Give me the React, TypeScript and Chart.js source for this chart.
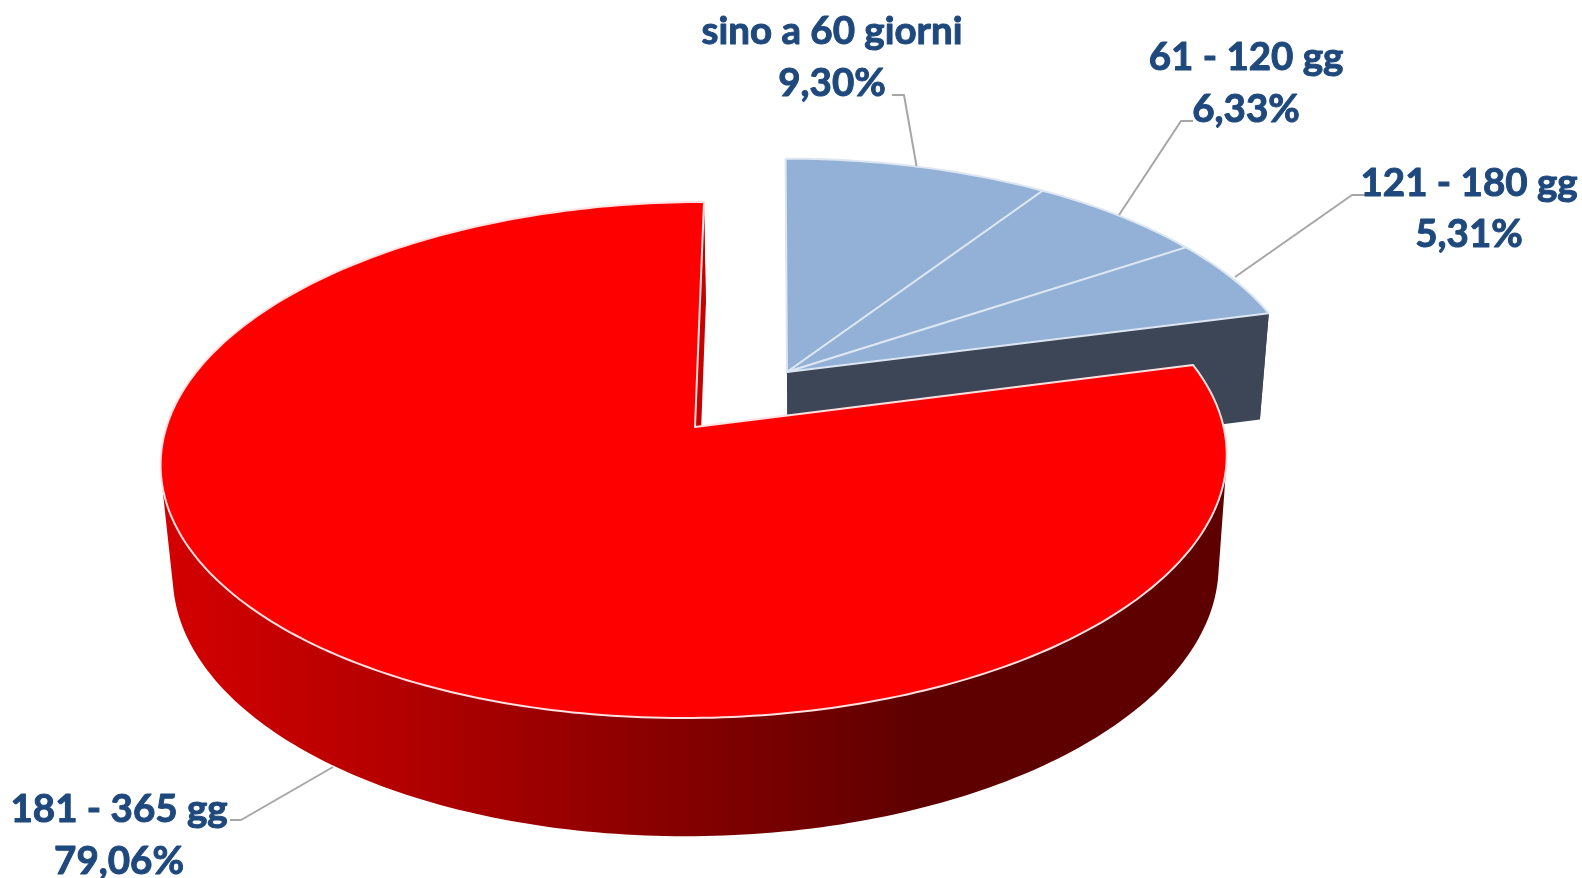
import React, { useEffect, useRef } from "react";
import { Chart, registerables } from "chart.js";

Chart.register(...registerables);

const categories = ["sino a 60 giorni", "61 - 120 gg", "121 - 180 gg", "181 - 365 gg"];
const shares = [9.3, 6.33, 5.31, 79.06];
const topColors = ["#93b1d6", "#93b1d6", "#93b1d6", "#ff0000"];
const explodedSlices = [true, true, true, false];

const VIEW = { cx: 695, cy: 427, a: 528.6, b: 253.8, k: 0.1279, shear: 0.04 };
const DEPTH = { sx: 0.981, dx: 2, sy: 1.03, h: 109.5 };
const EXPLODE = { u: 0.1747, v: 0.2228 };
const SEGMENTS_PER_RAD = 60;

const FONT = 'bold 38.5px Lato, "Noto Sans", sans-serif';
const TEXT_COLOR = "#1f497d";
const LEADER_COLOR = "#a6a6a6";
const labelLayout = [
  { x: 832, y1: 44, y2: 96, line: [[892, 95], [904, 95], [916.5, 166]] },
  { x: 1246, y1: 70, y2: 122, line: [[1193, 121], [1181, 121], [1119, 215]] },
  { x: 1469, y1: 196, y2: 247, line: [[1368, 195], [1352, 195], [1235, 277]] },
  { x: 119, y1: 822, y2: 874, line: [[230, 820], [241, 820], [333, 767]] },
];

type P = [number, number];

function top(u: number, v: number): P {
  const d = 1 + VIEW.k * v;
  const y = -(VIEW.b * v) / d;
  const x = (VIEW.a * u) / d - VIEW.shear * y;
  return [VIEW.cx + x, VIEW.cy + y];
}
function bottom(u: number, v: number): P {
  const [x, y] = top(u, v);
  return [
    VIEW.cx + (x - VIEW.cx) * DEPTH.sx + DEPTH.dx,
    VIEW.cy + (y - VIEW.cy) * DEPTH.sy + DEPTH.h,
  ];
}
function rimPoint(theta: number, off: { u: number; v: number }) {
  return [off.u + Math.sin(theta), off.v + Math.cos(theta)] as P;
}
function addPoly(ctx: CanvasRenderingContext2D, pts: P[]) {
  pts.forEach((p, i) => (i ? ctx.lineTo(p[0], p[1]) : ctx.moveTo(p[0], p[1])));
  ctx.closePath();
}
function poly(ctx: CanvasRenderingContext2D, pts: P[]) {
  ctx.beginPath();
  addPoly(ctx, pts);
}
function area(pts: P[]) {
  let s = 0;
  pts.forEach((p, i) => {
    const q = pts[(i + 1) % pts.length];
    s += p[0] * q[1] - q[0] * p[1];
  });
  return s;
}
function angles(start: number, end: number) {
  const n = Math.max(2, Math.ceil((end - start) * SEGMENTS_PER_RAD));
  const out: number[] = [];
  for (let i = 0; i <= n; i++) out.push(start + ((end - start) * i) / n);
  return out;
}

const pie3d = {
  id: "pie3d",
  beforeDatasetsDraw(chart: any) {
    const ctx: CanvasRenderingContext2D = chart.ctx;
    const arcs = chart.getDatasetMeta(0).data;
    const slices = arcs.map((arc: any, i: number) => ({
      start: arc.startAngle + Math.PI / 2,
      end: arc.endAngle + Math.PI / 2,
      off: explodedSlices[i] ? EXPLODE : { u: 0, v: 0 },
      color: topColors[i],
      exploded: explodedSlices[i],
    }));

    const redSide = ctx.createLinearGradient(161, 0, 922, 0);
    redSide.addColorStop(0, "#d40000");
    redSide.addColorStop(0.27, "#b80000");
    redSide.addColorStop(0.63, "#8c0000");
    redSide.addColorStop(1, "#5e0000");
    const blueSide = "#3c4657";

    ctx.save();
    ctx.lineJoin = "round";
    [true, false].forEach((exploded) => {
      const group = slices.filter((s: any) => s.exploded === exploded);
      const side = exploded ? blueSide : redSide;
      const off = group[0].off;
      const gEnd = group[group.length - 1].end;

      const ts = angles(group[0].start, gEnd);
      ctx.beginPath();
      for (let i = 0; i < ts.length - 1; i++) {
        const [u0, v0] = rimPoint(ts[i], off);
        const [u1, v1] = rimPoint(ts[i + 1], off);
        const quad: P[] = [top(u0, v0), top(u1, v1), bottom(u1, v1), bottom(u0, v0)];
        if (area(quad) < 0) quad.reverse();
        addPoly(ctx, quad);
      }
      ctx.fillStyle = side;
      ctx.fill("nonzero");

      const [cu, cv] = rimPoint(gEnd, off);
      poly(ctx, [top(off.u, off.v), top(cu, cv), bottom(cu, cv), bottom(off.u, off.v)]);
      ctx.fillStyle = exploded ? blueSide : "#c80000";
      ctx.fill();

      group.forEach((s: any) => {
        const pts: P[] = [top(off.u, off.v)];
        angles(s.start, s.end).forEach((t) => {
          const [u, v] = rimPoint(t, off);
          pts.push(top(u, v));
        });
        poly(ctx, pts);
        ctx.fillStyle = s.color;
        ctx.fill();
        ctx.strokeStyle = exploded ? "#dce6f2" : "#ffe0e0";
        ctx.lineWidth = 2;
        ctx.stroke();
      });
    });
    ctx.restore();
    return false;
  },
  afterDraw(chart: any) {
    const ctx: CanvasRenderingContext2D = chart.ctx;
    ctx.save();
    ctx.font = FONT;
    ctx.textAlign = "center";
    ctx.textBaseline = "alphabetic";
    ctx.lineJoin = "round";
    labelLayout.forEach((l, i) => {
      ctx.beginPath();
      l.line.forEach((p, j) => (j ? ctx.lineTo(p[0], p[1]) : ctx.moveTo(p[0], p[1])));
      ctx.strokeStyle = LEADER_COLOR;
      ctx.lineWidth = 2;
      ctx.stroke();
      ctx.fillStyle = TEXT_COLOR;
      ctx.strokeStyle = TEXT_COLOR;
      ctx.lineWidth = 1;
      const pct = chart.data.datasets[0].data[i].toFixed(2).replace(".", ",") + "%";
      ctx.fillText(chart.data.labels[i], l.x, l.y1);
      ctx.strokeText(chart.data.labels[i], l.x, l.y1);
      ctx.fillText(pct, l.x, l.y2);
      ctx.strokeText(pct, l.x, l.y2);
    });
    ctx.restore();
  },
};

export default function App() {
  const ref = useRef<HTMLCanvasElement>(null);
  useEffect(() => {
    document.body.style.margin = "0";
    document.body.style.background = "#ffffff";
    const chart = new Chart(ref.current as HTMLCanvasElement, {
      type: "pie",
      data: {
        labels: categories,
        datasets: [{ data: shares, backgroundColor: topColors }],
      },
      options: {
        responsive: false,
        animation: false,
        plugins: { legend: { display: false }, tooltip: { enabled: false } },
      },
      plugins: [pie3d as any],
    });
    return () => chart.destroy();
  }, []);
  return (
    <div style={{ position: "fixed", inset: 0, overflow: "hidden" }}>
      <canvas ref={ref} width={1582} height={878} style={{ display: "block" }} />
    </div>
  );
}
